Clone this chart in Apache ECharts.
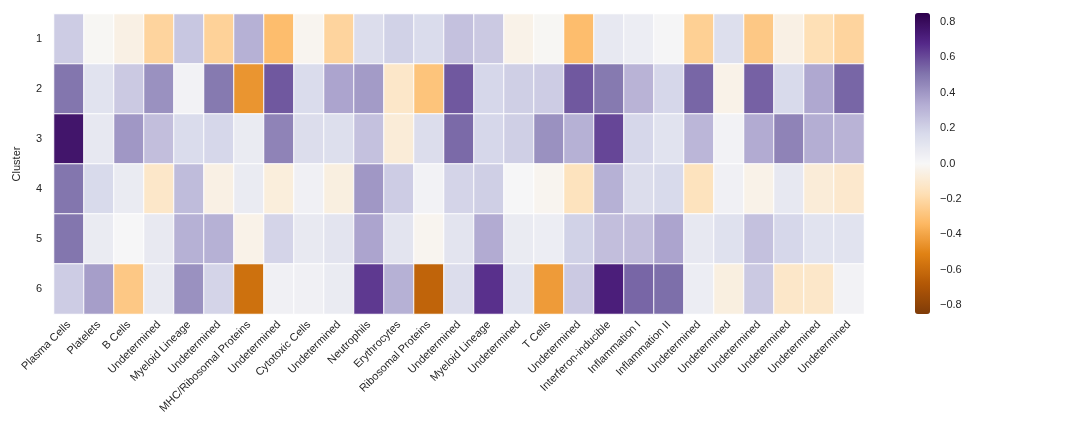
<!DOCTYPE html>
<html>
<head>
<meta charset="utf-8">
<script src="https://cdn.jsdelivr.net/npm/echarts@6/dist/echarts.min.js"></script>
<style>html,body{margin:0;padding:0;background:#fff;}#c{width:1080px;height:432px;}</style>
</head>
<body>
<div id="c"></div>
<script>
const categories = ["Plasma Cells","Platelets","B Cells","Undetermined","Myeloid Lineage","Undetermined","MHC/Ribosomal Proteins","Undetermined","Cytotoxic Cells","Undetermined","Neutrophils","Erythrocytes","Ribosomal Proteins","Undetermined","Myeloid Lineage","Undetermined","T Cells","Undetermined","Interferon-inducible","Inflammation I","Inflammation II","Undetermined","Undetermined","Undetermined","Undetermined","Undetermined","Undetermined"];
const clusters = ["1","2","3","4","5","6"];
const cluster1 = [0.22,-0.01,-0.05,-0.22,0.24,-0.23,0.32,-0.32,-0.02,-0.22,0.15,0.20,0.16,0.26,0.23,-0.04,-0.01,-0.32,0.09,0.06,0.01,-0.24,0.14,-0.27,-0.05,-0.17,-0.22];
const cluster2 = [0.50,0.12,0.23,0.42,0.03,0.49,-0.45,0.57,0.16,0.36,0.39,-0.12,-0.29,0.57,0.18,0.21,0.22,0.57,0.49,0.31,0.18,0.54,-0.04,0.55,0.17,0.35,0.54];
const cluster3 = [0.76,0.09,0.40,0.27,0.16,0.18,0.07,0.46,0.15,0.14,0.26,-0.08,0.15,0.53,0.18,0.21,0.42,0.32,0.61,0.18,0.12,0.30,0.03,0.34,0.46,0.33,0.31];
const cluster4 = [0.50,0.17,0.07,-0.12,0.28,-0.05,0.07,-0.07,0.04,-0.06,0.40,0.22,0.03,0.19,0.21,0.005,-0.02,-0.15,0.32,0.15,0.17,-0.15,0.04,-0.04,0.09,-0.08,-0.11];
const cluster5 = [0.50,0.07,0.005,0.08,0.32,0.32,-0.04,0.19,0.08,0.11,0.36,0.11,-0.02,0.11,0.34,0.07,0.06,0.20,0.27,0.27,0.36,0.09,0.13,0.26,0.18,0.12,0.12];
const cluster6 = [0.22,0.38,-0.27,0.08,0.42,0.19,-0.58,0.04,0.04,0.07,0.64,0.32,-0.63,0.15,0.66,0.12,-0.43,0.23,0.72,0.54,0.52,0.06,-0.06,0.23,-0.12,-0.12,0.03];
const colorbarTicks = [-0.8,-0.6,-0.4,-0.2,0.0,0.2,0.4,0.6,0.8];

const rows = [cluster1,cluster2,cluster3,cluster4,cluster5,cluster6];
const data = [];
rows.forEach((r, yi) => r.forEach((v, xi) => data.push([xi, yi, v])));

const puor = ['#7f3b08','#b35806','#e08214','#fdb863','#fee0b6','#f7f7f7','#d8daeb','#b2abd2','#8073ac','#542788','#2d004b'];
const font = 'Liberation Sans, Arial, sans-serif';
const chart = echarts.init(document.getElementById('c'), null, {renderer:'canvas'});
chart.setOption({
  animation: false,
  backgroundColor: '#fff',
  grid: [
    {left: 54, right: 216, top: 14, bottom: 118},
    {left: 915, width: 15, top: 13, height: 301}
  ],
  xAxis: [
    {type: 'category', gridIndex: 0, data: categories, position: 'bottom',
     axisLine: {show: false}, axisTick: {show: false}, splitLine: {show: false},
     axisLabel: {rotate: 45, interval: 0, fontSize: 11, color: '#262626', fontFamily: font, margin: 9}},
    {type: 'value', gridIndex: 1, show: false, min: 0, max: 1}
  ],
  yAxis: [
    {type: 'category', gridIndex: 0, data: clusters, inverse: true,
     axisLine: {show: false}, axisTick: {show: false}, splitLine: {show: false},
     axisLabel: {fontSize: 11, color: '#262626', fontFamily: font, margin: 12},
     name: 'Cluster', nameLocation: 'middle', nameGap: 32, nameRotate: 90,
     nameTextStyle: {fontSize: 11, color: '#262626', fontFamily: font}},
    {type: 'value', gridIndex: 1, position: 'right', min: -0.85, max: 0.85,
     axisLine: {show: false}, splitLine: {show: false},
     axisTick: {show: true, length: 4, lineStyle: {color: '#333', width: 1}, customValues: colorbarTicks},
     axisLabel: {fontSize: 11, color: '#262626', fontFamily: font, margin: 10, customValues: colorbarTicks,
       formatter: v => v.toFixed(1).replace('-', '\u2212')}}
  ],
  visualMap: {
    type: 'continuous', min: -0.85, max: 0.85, seriesIndex: 0,
    left: 915, top: 13, itemWidth: 15, itemHeight: 301, padding: 0,
    calculable: false, realtime: false, hoverLink: false, text: null, showLabel: false,
    inRange: {color: puor}
  },
  series: [{
    type: 'heatmap', xAxisIndex: 0, yAxisIndex: 0, data: data,
    itemStyle: {borderColor: '#fff', borderWidth: 1},
    emphasis: {disabled: true}
  }]
});
</script>
</body>
</html>
